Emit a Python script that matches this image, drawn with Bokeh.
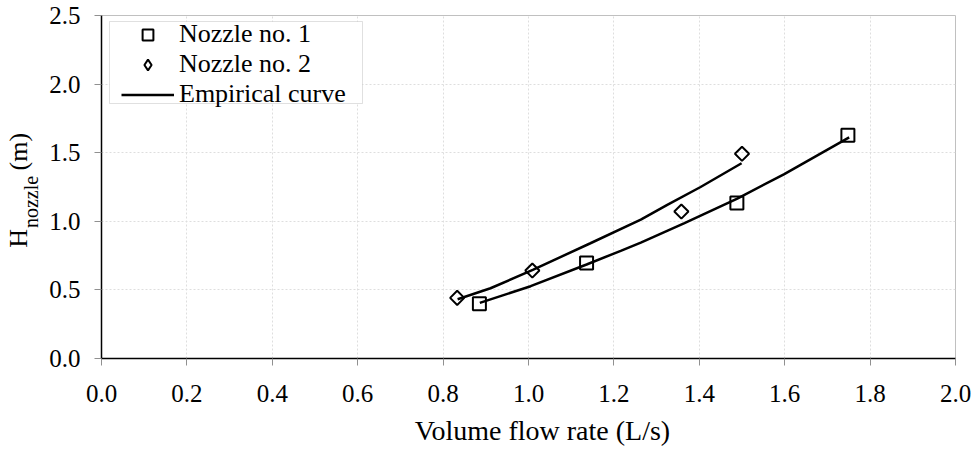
from math import pi

from bokeh.embed import file_html
from bokeh.models import (BoxAnnotation, FixedTicker, Legend, LegendItem, LinearAxis,
                          PrintfTickFormatter, Range1d)
from bokeh.plotting import figure
from bokeh.resources import INLINE

FONT = "Liberation Serif"
NBSP = "\u00a0"

# Measured operating points (volume flow rate in L/s, head in m)
flow_nozzle1 = [0.885, 1.136, 1.488, 1.748]
head_nozzle1 = [0.399, 0.696, 1.134, 1.628]
flow_nozzle2 = [0.833, 1.009, 1.358, 1.500]
head_nozzle2 = [0.442, 0.641, 1.071, 1.492]

# Empirical curves
curve1_flow = [0.886, 1.005, 1.136, 1.216, 1.263, 1.364, 1.489, 1.598, 1.751]
curve1_head = [0.405, 0.527, 0.685, 0.785, 0.845, 0.985, 1.166, 1.342, 1.612]
curve2_flow = [0.834, 0.911, 1.010, 1.145, 1.263, 1.325, 1.403, 1.499]
curve2_head = [0.432, 0.512, 0.646, 0.840, 1.012, 1.120, 1.250, 1.423]

x_ticks = [0.0, 0.2, 0.4, 0.6, 0.8, 1.0, 1.2, 1.4, 1.6, 1.8, 2.0]
y_ticks = [0.0, 0.5, 1.0, 1.5, 2.0, 2.5]

p = figure(width=975, height=450, output_backend="svg", toolbar_location=None,
           x_range=Range1d(0, 2.0), y_range=Range1d(0, 2.5),
           min_border_left=101, min_border_right=20,
           min_border_top=15, min_border_bottom=92)
p.title.visible = False
p.background_fill_color = "white"
p.border_fill_color = "white"
p.outline_line_color = "#c0c0c0"
p.outline_line_width = 1

# grid
for g in (p.xgrid, p.ygrid):
    g.grid_line_color = "#dedede"
    g.grid_line_dash = "2 2"
    g.grid_line_width = 1
p.xgrid.ticker = FixedTicker(ticks=x_ticks)
p.ygrid.ticker = FixedTicker(ticks=y_ticks)

# axes
for ax, ticks in ((p.xaxis[0], x_ticks), (p.yaxis[0], y_ticks)):
    ax.ticker = FixedTicker(ticks=ticks)
    ax.formatter = PrintfTickFormatter(format="%.1f")
    ax.axis_line_color = "black"
    ax.axis_line_width = 1.5
    ax.major_tick_line_color = "#909090"
    ax.major_tick_in = 0
    ax.major_tick_out = 7
    ax.minor_tick_line_color = None
    ax.major_label_text_font = FONT
    ax.major_label_text_font_size = "25px"
    ax.major_label_text_color = "black"
    ax.axis_label_text_font = FONT
    ax.axis_label_text_font_style = "normal"
    ax.axis_label_text_color = "black"
p.xaxis[0].major_label_standoff = 19
p.yaxis[0].major_label_standoff = 14

p.xaxis[0].axis_label = NBSP * 4 + "Volume flow rate (L/s)"
p.xaxis[0].axis_label_text_font_size = "28px"
p.xaxis[0].axis_label_standoff = 10

# y title: subscript on the inner axis, main symbol and unit on an outer one
p.yaxis[0].axis_label = "nozzle" + NBSP * 6
p.yaxis[0].axis_label_text_font_size = "20px"
p.yaxis[0].axis_label_standoff = 4

outer = LinearAxis(ticker=FixedTicker(ticks=[]), axis_line_color=None,
                   major_tick_line_color=None, minor_tick_line_color=None,
                   major_tick_out=0, major_tick_in=0, major_label_standoff=0,
                   axis_label="H" + NBSP * 9 + "(m)" + NBSP,
                   axis_label_text_font=FONT, axis_label_text_font_size="26px",
                   axis_label_text_font_style="normal", axis_label_text_color="black",
                   axis_label_standoff=-15)
p.add_layout(outer, "left")

# data
r_n1 = p.scatter(flow_nozzle1, head_nozzle1, marker="square", size=13,
                 fill_color=None, line_color="black", line_width=2)
r_n2 = p.scatter(flow_nozzle2, head_nozzle2, marker="square", angle=pi / 4, size=10,
                 fill_color=None, line_color="black", line_width=2)
r_c1 = p.line(curve1_flow, curve1_head, line_color="black", line_width=2.5)
r_c2 = p.line(curve2_flow, curve2_head, line_color="black", line_width=2.5)

# hidden twin of the diamond series, used only for its legend sample
r_n2_key = p.scatter(flow_nozzle2, head_nozzle2, marker="diamond", size=12,
                     fill_color=None, line_color="black", line_width=2, visible=False)

# legend frame
box = BoxAnnotation(left=8, right=261, top=337, bottom=255,
                    left_units="screen", right_units="screen",
                    top_units="screen", bottom_units="screen",
                    fill_color="white", fill_alpha=1.0,
                    line_color="#999999", line_width=1, level="guide")
p.add_layout(box)

legend = Legend(items=[
    LegendItem(label="Nozzle no. 1", renderers=[r_n1]),
    LegendItem(label="Nozzle no. 2", renderers=[r_n2_key]),
    LegendItem(label="Empirical curve", renderers=[r_c1]),
], location=(17, 246), orientation="vertical",
    glyph_width=53, glyph_height=27, spacing=0, padding=3, margin=0,
    label_standoff=5, border_line_alpha=0, background_fill_alpha=0,
    inactive_fill_alpha=0,
    label_text_font=FONT, label_text_font_size="26px", label_text_color="black")
p.add_layout(legend)

open("out.html", "w").write(file_html(p, INLINE))
